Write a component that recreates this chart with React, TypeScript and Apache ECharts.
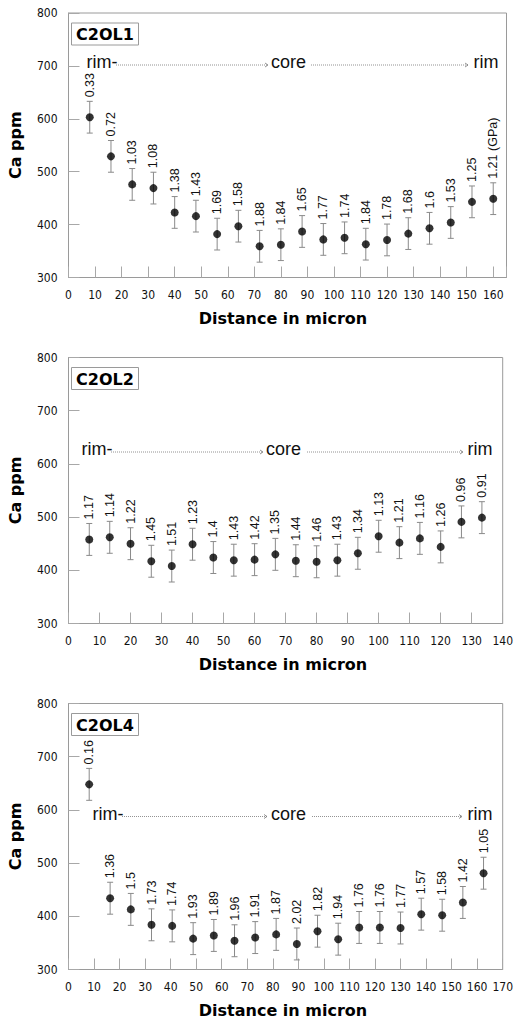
import React, { useEffect, useRef } from 'react';
import * as echarts from 'echarts';

// ---------- DATA ----------
const p1Names = 'C2OL1';
const p1Dist = [8, 16, 24, 32, 40, 48, 56, 64, 72, 80, 88, 96, 104, 112, 120, 128, 136, 144, 152, 160];
const p1Ca = [603, 529, 476, 469, 423, 416, 382, 397, 359, 362, 387, 372, 375, 363, 371, 383, 393, 404, 443, 449];
const p1Gpa = ['0.33', '0.72', '1.03', '1.08', '1.38', '1.43', '1.69', '1.58', '1.88', '1.84', '1.65', '1.77', '1.74', '1.84', '1.78', '1.68', '1.6', '1.53', '1.25', '1.21 (GPa)'];

const p2Names = 'C2OL2';
const p2Dist = [6.7, 13.3, 20, 26.7, 33.3, 40, 46.7, 53.3, 60, 66.7, 73.3, 80, 86.7, 93.3, 100, 106.7, 113.3, 120, 126.7, 133.3];
const p2Ca = [458, 462, 450, 417, 408, 449, 424, 419, 420, 430, 418, 416, 419, 432, 464, 452, 460, 444, 491, 499];
const p2Gpa = ['1.17', '1.14', '1.22', '1.45', '1.51', '1.23', '1.4', '1.43', '1.42', '1.35', '1.44', '1.46', '1.43', '1.34', '1.13', '1.21', '1.16', '1.26', '0.96', '0.91'];

const p3Names = 'C2OL4';
const p3Dist = [8.1, 16.3, 24.4, 32.5, 40.6, 48.8, 56.9, 65, 73.1, 81.3, 89.4, 97.5, 105.6, 113.8, 121.9, 130, 138.1, 146.3, 154.4, 162.5];
const p3Ca = [648, 434, 413, 384, 382, 358, 364, 354, 360, 366, 348, 372, 357, 379, 379, 378, 404, 402, 426, 481];
const p3Gpa = ['0.16', '1.36', '1.5', '1.73', '1.74', '1.93', '1.89', '1.96', '1.91', '1.87', '2.02', '1.82', '1.94', '1.76', '1.76', '1.77', '1.57', '1.58', '1.42', '1.05'];

const errPpm = 30;
const yTicks = [300, 400, 500, 600, 700, 800];
const xMaxes = [165, 140, 170];
const yTitle = 'Ca ppm';
const xTitle = 'Distance in micron';
const zoneWords = ['rim-', 'core', 'rim'];

// ---------- LAYOUT ----------
const TICK_FONT = "'DejaVu Sans Condensed', 'DejaVu Sans', sans-serif";
const BOLD_FONT = "'DejaVu Sans', sans-serif";
const LABEL_FONT = "'Liberation Sans', Arial, sans-serif";
const GREY = '#9a9a9a';

const panels = [
  { name: p1Names, dist: p1Dist, ca: p1Ca, gpa: p1Gpa, top: 13, height: 264.5,
    ann: { y: 62, rimL: 86.5, l1: [116, 268], core: 271, l2: [311, 468], rimR: 473.5 } },
  { name: p2Names, dist: p2Dist, ca: p2Ca, gpa: p2Gpa, top: 357.5, height: 266,
    ann: { y: 449, rimL: 81.5, l1: [111, 263], core: 266, l2: [307, 463], rimR: 467.5 } },
  { name: p3Names, dist: p3Dist, ca: p3Ca, gpa: p3Gpa, top: 703.5, height: 266,
    ann: { y: 813.5, rimL: 92.5, l1: [122, 267], core: 271, l2: [312, 462], rimR: 467.5 } },
];
const GRID_LEFT = 68.5;
const GRID_WIDTH = 438;

function buildOption() {
  const grid: any[] = [];
  const xAxis: any[] = [];
  const yAxis: any[] = [];
  const series: any[] = [];
  const graphic: any[] = [];

  panels.forEach((p, i) => {
    grid.push({
      left: GRID_LEFT, top: p.top, width: GRID_WIDTH, height: p.height,
      show: true, borderColor: GREY, borderWidth: 1, backgroundColor: 'transparent',
    });
    xAxis.push({
      gridIndex: i, type: 'value', min: 0, max: xMaxes[i], interval: 10,
      axisLine: { show: true, lineStyle: { color: GREY } },
      axisTick: { show: true, inside: true, length: 11, lineStyle: { color: '#a8a8a8' } },
      axisLabel: {
        margin: 11, fontFamily: TICK_FONT, fontSize: 12, color: '#111',
        formatter: (v: number) => (v % 10 === 0 ? String(v) : ''),
      },
      splitLine: { show: false },
    });
    yAxis.push({
      gridIndex: i, type: 'value', min: yTicks[0], max: yTicks[yTicks.length - 1], interval: 100,
      axisLine: { show: true, lineStyle: { color: GREY } },
      axisTick: { show: true, inside: true, length: 11, lineStyle: { color: '#a8a8a8' } },
      axisLabel: { margin: 11, fontFamily: TICK_FONT, fontSize: 12, color: '#111' },
      splitLine: { show: false },
    });
    const labels = p.gpa;
    series.push({
      type: 'custom', xAxisIndex: i, yAxisIndex: i, z: 1,
      data: p.dist.map((d, k) => [d, p.ca[k], errPpm]),
      renderItem: (params: any, api: any) => {
        const x = api.value(0), y = api.value(1), e = api.value(2);
        const t = api.coord([x, y + e]);
        const b = api.coord([x, y - e]);
        const cap = 3;
        const ls = { stroke: '#8a8a8a', lineWidth: 1 };
        return {
          type: 'group',
          children: [
            { type: 'line', shape: { x1: t[0], y1: t[1], x2: b[0], y2: b[1] }, style: ls },
            { type: 'line', shape: { x1: t[0] - cap, y1: t[1], x2: t[0] + cap, y2: t[1] }, style: ls },
            { type: 'line', shape: { x1: b[0] - cap, y1: b[1], x2: b[0] + cap, y2: b[1] }, style: ls },
            {
              type: 'text', x: t[0], y: t[1] - 4, rotation: Math.PI / 2,
              style: {
                text: labels[params.dataIndex], fontFamily: LABEL_FONT, fontSize: 12.5,
                fill: '#111', align: 'left', verticalAlign: 'middle',
              },
            },
          ],
        };
      },
    });
    series.push({
      type: 'scatter', xAxisIndex: i, yAxisIndex: i, z: 2,
      symbol: 'circle', symbolSize: 8, itemStyle: { color: '#000' },
      data: p.dist.map((d, k) => [d, p.ca[k]]),
    });

    // panel name box
    graphic.push({
      type: 'rect', shape: { x: 71.5, y: p.top + 10, width: 67, height: 22 },
      style: { fill: '#fff', stroke: GREY, lineWidth: 1 }, z: 10,
    });
    graphic.push({
      type: 'text', x: 105, y: p.top + 21.5, z: 11,
      style: { text: p.name, fontFamily: BOLD_FONT, fontWeight: 'bold', fontSize: 16, fill: '#000', align: 'center', verticalAlign: 'middle' },
    });
    // axis titles
    graphic.push({
      type: 'text', x: 15, y: p.top + p.height / 2, rotation: Math.PI / 2,
      style: { text: yTitle, fontFamily: BOLD_FONT, fontWeight: 'bold', fontSize: 16, fill: '#000', align: 'center', verticalAlign: 'middle' },
    });
    graphic.push({
      type: 'text', x: 283, y: p.top + p.height + 41,
      style: { text: xTitle, fontFamily: BOLD_FONT, fontWeight: 'bold', fontSize: 16, fill: '#000', align: 'center', verticalAlign: 'middle' },
    });
    // rim / core annotation
    const a = p.ann;
    const ly = a.y + 3;
    const annStyle = { fontFamily: LABEL_FONT, fontSize: 18, fill: '#111', align: 'left', verticalAlign: 'middle' };
    graphic.push({ type: 'text', x: a.rimL, y: a.y, style: { ...annStyle, text: zoneWords[0] } });
    graphic.push({ type: 'text', x: a.core, y: a.y, style: { ...annStyle, text: zoneWords[1] } });
    graphic.push({ type: 'text', x: a.rimR, y: a.y, style: { ...annStyle, text: zoneWords[2] } });
    [a.l1, a.l2].forEach((l) => {
      graphic.push({
        type: 'line', shape: { x1: l[0], y1: ly, x2: l[1], y2: ly },
        style: { stroke: '#777', lineWidth: 0.8, lineDash: [1, 1] },
      });
      graphic.push({
        type: 'polyline', shape: { points: [[l[1] - 3, ly - 2], [l[1], ly], [l[1] - 3, ly + 2]] },
        style: { stroke: '#777', lineWidth: 0.8, fill: 'none' },
      });
    });
  });

  return { animation: false, backgroundColor: '#fff', grid, xAxis, yAxis, series, graphic };
}

export default function App() {
  const ref = useRef<HTMLDivElement>(null);
  useEffect(() => {
    if (!ref.current) return;
    const chart = echarts.init(ref.current, undefined, { renderer: 'svg' });
    chart.setOption(buildOption() as any);
    return () => chart.dispose();
  }, []);
  return <div ref={ref} style={{ position: 'absolute', left: 0, top: 0, width: 516, height: 1021 }} />;
}
